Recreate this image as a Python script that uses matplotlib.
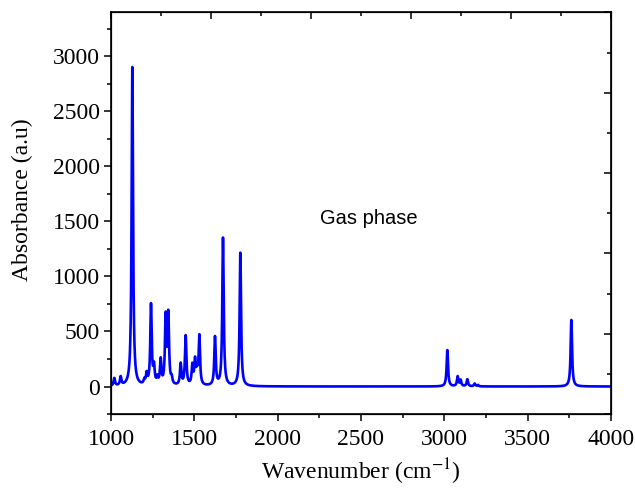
import matplotlib
matplotlib.use("Agg")
import matplotlib.pyplot as plt
import numpy as np
from matplotlib.ticker import MultipleLocator

# computed IR bands (cm-1) and their peak absorbance
band_pos = [1020, 1058, 1128, 1200, 1214, 1240, 1258, 1278, 1298, 1328, 1344, 1364,
            1418, 1448, 1488, 1504, 1516, 1530, 1624, 1672, 1776,
            3018, 3080, 3098, 3138, 3182, 3202, 3762]
band_int = [70, 78, 2900, 40, 95, 730, 155, 60, 225, 610, 630, 55,
            195, 450, 175, 215, 120, 445, 440, 1345, 1212,
            330, 88, 55, 64, 25, 12, 605]
hwhm = 5.0

wn = np.linspace(1000, 4000, 6001)
absorb = np.zeros_like(wn)
for p, a in zip(band_pos, band_int):
    absorb += a / (1 + ((wn - p) / hwhm) ** 2)

plt.rcParams['font.family'] = ['Liberation Serif', 'DejaVu Serif']
plt.rcParams['mathtext.fontset'] = 'stix'

fig = plt.figure(figsize=(6.35, 4.9), dpi=100)
ax = fig.add_axes([0.1748, 0.1551, 0.7874, 0.8194])
ax.plot(wn, absorb, color='#0000ff', lw=1.9)

ax.set_xlim(1000, 4000)
ax.set_ylim(-250, 3400)
ax.xaxis.set_major_locator(MultipleLocator(500))
ax.xaxis.set_minor_locator(MultipleLocator(250))
ax.yaxis.set_major_locator(MultipleLocator(500))
ax.yaxis.set_minor_locator(MultipleLocator(250))
ax.tick_params(which='both', direction='out', width=1.1, labelsize=17)
ax.tick_params(axis='x', pad=6)
ax.tick_params(axis='y', pad=3)
ax.tick_params(which='major', length=5)
ax.tick_params(which='minor', length=3)
for s in ax.spines.values():
    s.set_linewidth(1.2)

# mirrored frame ticks on top and right
top = ax.twiny()
top.set_xlim(0, 1)
top.xaxis.set_major_locator(MultipleLocator(0.2))
top.xaxis.set_minor_locator(MultipleLocator(0.1))
top.tick_params(which='both', direction='in', width=1.1, labeltop=False)
top.tick_params(which='major', length=5)
top.tick_params(which='minor', length=3)
right = ax.twinx()
right.set_ylim(0, 1)
right.yaxis.set_major_locator(MultipleLocator(0.2))
right.yaxis.set_minor_locator(MultipleLocator(0.1))
right.tick_params(which='both', direction='in', width=1.1, labelright=False)
right.tick_params(which='major', length=5)
right.tick_params(which='minor', length=3)

ax.set_xlabel(r'Wavenumber (cm$^{-1}$)', fontsize=17)
ax.xaxis.set_label_coords(0.5, -0.105)
ax.set_ylabel('Absorbance (a.u)', fontsize=17)
ax.yaxis.set_label_coords(-0.155, 0.535)

ax.text(2254, 1530, 'Gas phase', fontsize=14.5, family='Liberation Sans',
        ha='left', va='center')

fig.savefig('out.png', dpi=100)
